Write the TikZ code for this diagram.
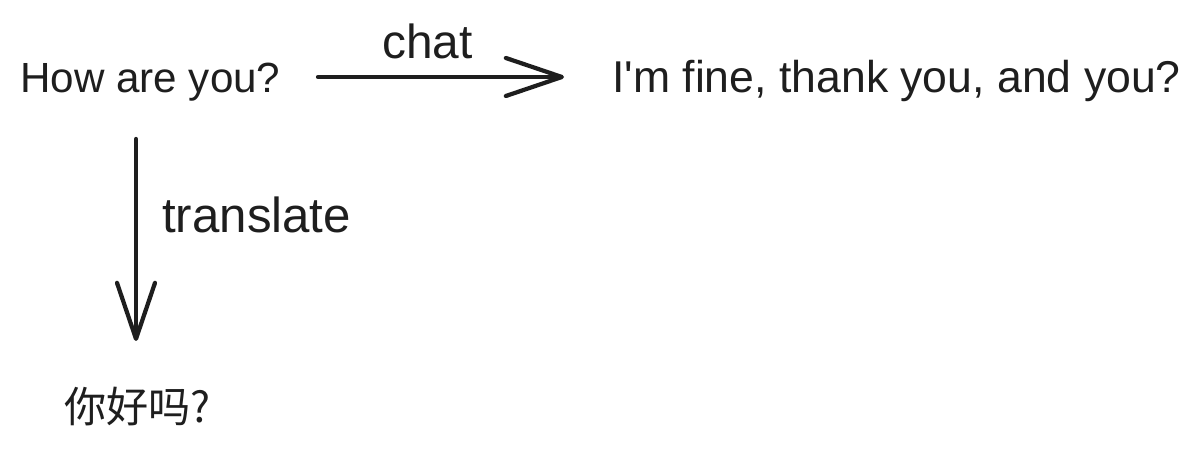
\documentclass[tikz,border=0pt]{standalone}
\usepackage{fontspec}
\setmainfont{Liberation Sans}[Ligatures=TeXOff]
\newfontfamily\cjkfont{Noto Sans CJK SC}
\usetikzlibrary{arrows.meta}
\definecolor{ink}{HTML}{1E1E1E}

\begin{document}
\begin{tikzpicture}[
    label/.style={font=\fontsize{30}{36}\selectfont, text=ink, inner sep=0pt, anchor=base west},
    flow/.style={ink, line width=3pt, line cap=round, -{Straight Barb[length=1.4cm, width=0.95cm, line width=3pt, round]}}
  ]
\useasboundingbox (0,0) rectangle (30,11.325);

% Phrases
\node[label] (how) at (0.5,9.0) {How are you?};
\node[label, font=\fontsize{31.7}{38}\selectfont] (fine) at (15.3,9.0) {I'm fine, thank you, and you?};
\node[label, font=\cjkfont\fontsize{30}{36}\selectfont] (nihao) at (1.6,0.75) {你好吗?};

% Arrow ends
\coordinate (chatfrom) at (7.95,9.4);
\coordinate (chatto) at (14.1,9.4);
\coordinate (transfrom) at (3.4,7.85);
\coordinate (transto) at (3.4,2.8);

% Chat arrow
\draw[flow] (chatfrom) -- (chatto);
\node[label, font=\fontsize{34}{40}\selectfont] (chat) at (9.55,9.85) {chat};

% Translate arrow
\draw[flow] (transfrom) -- (transto);
\node[label, font=\fontsize{35}{42}\selectfont] (translate) at (4.05,5.5) {translate};

\end{tikzpicture}
\end{document}
